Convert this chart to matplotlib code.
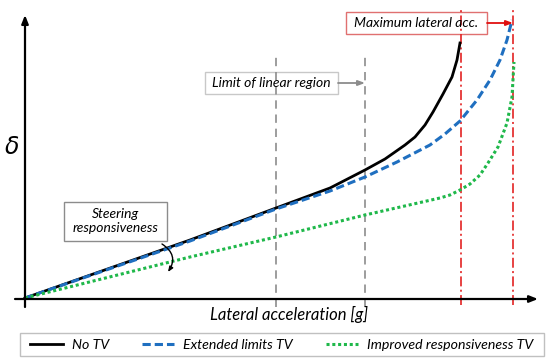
import matplotlib
matplotlib.use("Agg")
import matplotlib.pyplot as plt
from matplotlib.patches import Rectangle
from matplotlib.lines import Line2D

# Data (arbitrary units: lateral acceleration vs steering angle)
no_tv_x = [0, 165, 251, 305, 340, 360, 380, 390, 400, 408, 418, 427, 432, 435]
no_tv_y = [0, 58, 90, 110, 128, 139, 153, 161, 173, 186, 204, 221, 238, 255]

ext_x = [0, 165, 251, 305, 340, 372, 405, 420, 435, 452, 465, 475, 482, 487]
ext_y = [0, 57, 89, 107, 121, 136, 153, 164, 177, 198, 218, 238, 258, 278]

imp_x = [0, 165, 251, 340, 415, 425, 435, 445, 455, 463, 473, 482, 487, 489]
imp_y = [0, 41, 61, 83, 100, 103, 108, 114, 123, 135, 151, 175, 201, 236]

linear_limits = [251, 340]
max_acc = [436, 488]

labels = ["No TV", "Extended limits TV", "Improved responsiveness TV"]

FONT = "Lato"

fig = plt.figure(figsize=(5.5, 3.63), dpi=100)
ax = fig.add_axes([0, 0, 1, 1])
ax.set_xlim(-25, 525)
ax.set_ylim(-65, 298)
ax.axis("off")

BLUE = "#1f6fc0"
GREEN = "#1fb84a"
RED = "#e01010"
GRAY = "#8c8c8c"

# axes arrows
ax.annotate("", xy=(0, 283), xytext=(0, -9),
            arrowprops=dict(arrowstyle="-|>,head_length=0.5,head_width=0.2", color="black", lw=1.6, shrinkA=0, shrinkB=0))
ax.annotate("", xy=(513, -1), xytext=(-10, -1),
            arrowprops=dict(arrowstyle="-|>,head_length=0.5,head_width=0.2", color="black", lw=1.6, shrinkA=0, shrinkB=0))

# vertical reference lines
for xv in linear_limits:
    ax.plot([xv, xv], [-9, 246], color=GRAY, lw=1.2, ls=(0, (5, 3.5)))
for xv in max_acc:
    ax.plot([xv, xv], [-7, 290], color=RED, lw=1.1, ls=(0, (6.5, 2.2, 1.3, 2.2)))

# curves
ax.plot(no_tv_x, no_tv_y, color="black", lw=2.0, solid_joinstyle="round", label=labels[0])
ax.plot(ext_x, ext_y, color=BLUE, lw=2.2, ls=(0, (2.7, 1.3)), dash_joinstyle="round", label=labels[1])
ax.plot(imp_x, imp_y, color=GREEN, lw=2.2, ls=(0, (1, 0.9)), label=labels[2])

txt_kw = dict(fontsize=10, style="italic", family=FONT, ha="center", va="center")

# Limit of linear region box
ax.add_patch(Rectangle((180, 204), 133, 22, fill=True, facecolor="white", edgecolor="#c8c8c8", lw=1))
ax.text(246.5, 215, "Limit of linear region", **txt_kw)
ax.annotate("", xy=(340, 215), xytext=(313, 215),
            arrowprops=dict(arrowstyle="-|>,head_length=0.4,head_width=0.15", color=GRAY, lw=1.3, shrinkA=0, shrinkB=0))

# Maximum lateral acc box
ax.add_patch(Rectangle((321, 264), 141, 22, fill=True, facecolor="white", edgecolor="#e07070", lw=1))
ax.text(391.5, 275, "Maximum lateral acc.", **txt_kw)
ax.annotate("", xy=(488, 275), xytext=(462, 275),
            arrowprops=dict(arrowstyle="-|>,head_length=0.4,head_width=0.15", color=RED, lw=1.3, shrinkA=0, shrinkB=0))

# Steering responsiveness box
ax.add_patch(Rectangle((39, 57), 103, 39, fill=True, facecolor="white", edgecolor="#8c8c8c", lw=1))
ax.text(90.5, 76.5, "Steering\nresponsiveness", linespacing=1.2, **txt_kw)
ax.annotate("", xy=(143, 26), xytext=(137, 54),
            arrowprops=dict(arrowstyle="-|>,head_length=0.3,head_width=0.12", color="black", lw=1.0,
                            connectionstyle="arc3,rad=-0.5", shrinkA=0, shrinkB=0))

# axis labels
ax.text(264, -16, "Lateral acceleration [g]", fontsize=12, style="italic", family=FONT, ha="center", va="center")
ax.text(-13, 151, r"$\delta$", fontsize=17, ha="center", va="center")

# legend frame + legend
ax.add_patch(Rectangle((-5, -58), 524, 23, fill=False, edgecolor="#c0c0c0", lw=1.0))
handles = [Line2D([], [], color="black", lw=2.0),
           Line2D([], [], color=BLUE, lw=2.2, ls=(0, (2.7, 1.3))),
           Line2D([], [], color=GREEN, lw=2.2, ls=(0, (1, 0.9)))]
leg = fig.legend(handles, labels, ncol=3, loc="center left",
                 bbox_to_anchor=(30 / 550, 1 - 345 / 363),
                 prop=dict(family=FONT, style="italic", size=10.2), frameon=False,
                 handlelength=2.3, handletextpad=0.65, columnspacing=2.3,
                 borderaxespad=0, borderpad=0)

fig.savefig("out.png", dpi=100)
